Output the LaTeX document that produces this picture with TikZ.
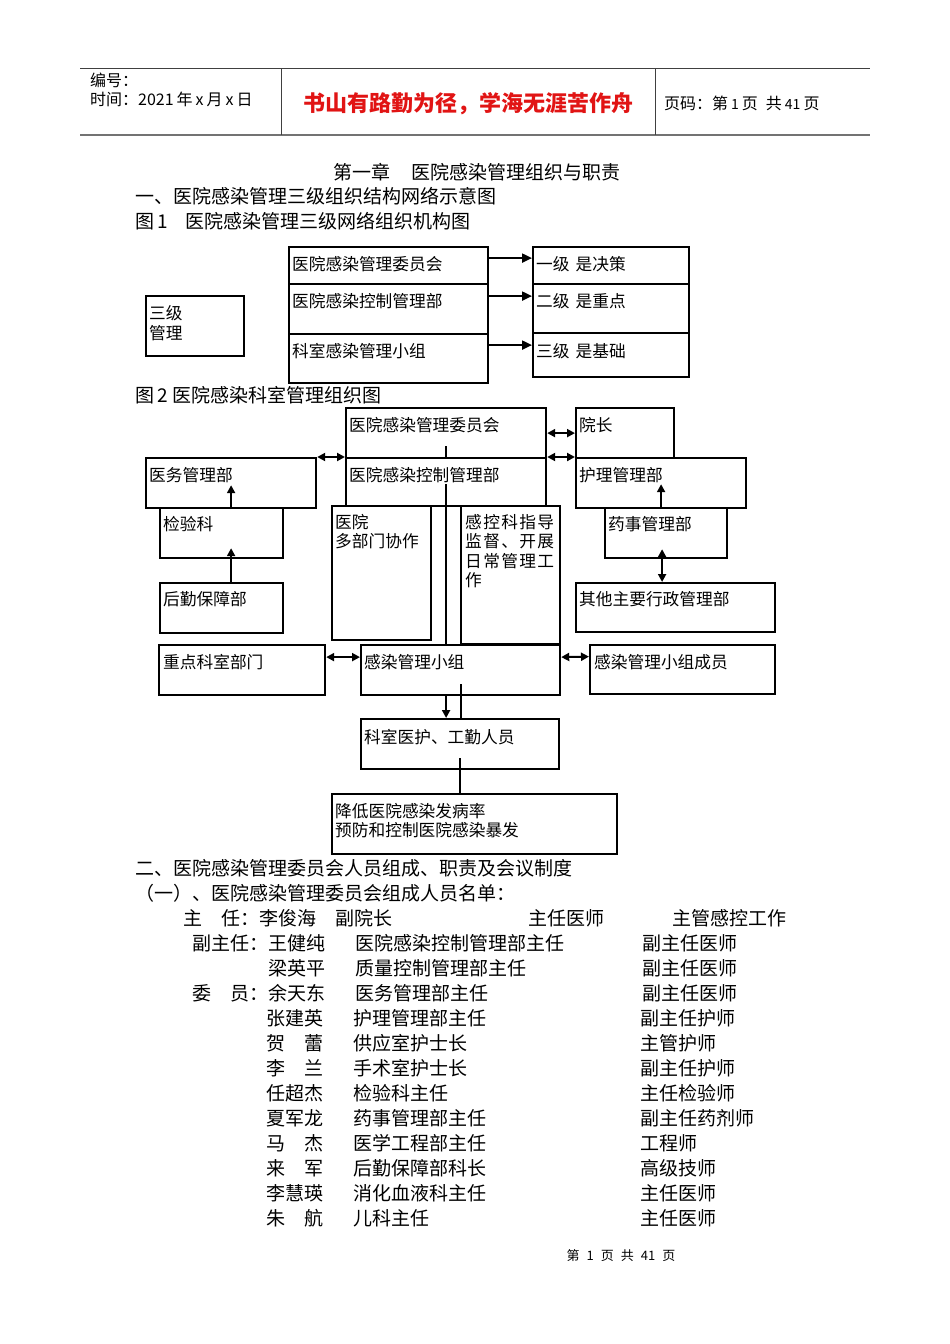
\documentclass[tikz,border=0pt]{standalone}
\usepackage{fontspec}
\setmainfont{Noto Sans CJK SC}
\usetikzlibrary{arrows.meta}
\newcommand\fsF{\fontsize{16.7pt}{19pt}\selectfont}
\newcommand\fsB{\fontsize{19pt}{22pt}\selectfont}
\newcommand\fsH{\fontsize{16pt}{18pt}\selectfont}
\newcommand\fsR{\fontsize{22pt}{26pt}\selectfont}
\newcommand\fsS{\fontsize{13pt}{16pt}\selectfont}
\newcommand\bx[5]{\node[box,minimum width={#4-#2},minimum height={#5-#3}] (#1) at (#2,#3) {};}
\begin{document}
\begin{tikzpicture}[x=1pt,y=-1pt,
  box/.style={draw,line width=2.2pt,inner sep=0pt,anchor=north west},
  lbl/.style={anchor=west,inner sep=0pt,font=\fsF},
  body/.style={anchor=west,inner sep=0pt,font=\fsB},
  hdr/.style={anchor=west,inner sep=0pt,font=\fsH},
  arr/.style={line width=2pt,-{Triangle[length=8pt,width=8pt]}},
  arrb/.style={line width=2.2pt,-{Triangle[length=10pt,width=9pt]}},
  dbl/.style={line width=2pt,{Triangle[length=8pt,width=8pt]}-{Triangle[length=8pt,width=8pt]}},
  ln/.style={line width=2pt},
  rule/.style={draw=black!75,line width=1pt}]
\fill[white] (0,0) rectangle (950,1344);
\useasboundingbox (0,0) rectangle (950,1344);

% ---------- header ----------
\draw[rule] (80,68) -- (870,68);
\draw[draw=black!55,line width=2pt] (80,135) -- (870,135);
\draw[rule] (281,68) -- (281,135);
\draw[rule] (655,68) -- (655,135);
\node[hdr] (hbh) at (90,80) {编号：};
\node[hdr] (hsj) at (90,99) {时间：2021\hspace{3pt}年\hspace{3pt}x\hspace{3pt}月\hspace{3pt}x\hspace{3pt}日};
\node[inner sep=0pt,font=\fsR\bfseries,text={rgb,255:red,225;green,20;blue,20}] (motto) at (468,104) {书山有路勤为径，学海无涯苦作舟};
\node[hdr] (hym) at (664,103) {页码：第\hspace{3pt}{\fontsize{14pt}{15pt}\selectfont 1}\hspace{3pt}页\hspace{8pt}共\hspace{3pt}{\fontsize{14pt}{15pt}\selectfont 41}\hspace{3pt}页};

% ---------- headings ----------
\node[body] (title) at (333,172) {第一章\hspace{21pt}医院感染管理组织与职责};
\node[body] (h1) at (135,196) {一、医院感染管理三级组织结构网络示意图};
\node[body] (cap1) at (135,221) {图\,1\hspace{18pt}医院感染管理三级网络组织机构图};

% ---------- figure 1 ----------
\bx{sj}{145}{295}{243}{355}
\node[lbl] (sj1) at (149,313) {三级};
\node[lbl] (sj2) at (149,333) {管理};
\bx{a1}{288}{246}{487}{283}
\bx{a2}{288}{283}{487}{333}
\bx{a3}{288}{333}{487}{382}
\bx{r1}{532}{246}{688}{283}
\bx{r2}{532}{283}{688}{332}
\bx{r3}{532}{332}{688}{376}
\node[lbl] (ta1) at (292,264) {医院感染管理委员会};
\node[lbl] (ta2) at (292,301) {医院感染控制管理部};
\node[lbl] (ta3) at (292,351) {科室感染管理小组};
\node[lbl] (tr1) at (536,264) {一级\hspace{6pt}是决策};
\node[lbl] (tr2) at (536,301) {二级\hspace{6pt}是重点};
\node[lbl] (tr3) at (536,351) {三级\hspace{6pt}是基础};
\draw[arrb] ([yshift=7.5pt]a1.east) -- ([yshift=7.5pt]r1.west);
\draw[arrb] ([yshift=13pt]a2.east) -- ([yshift=12.5pt]r2.west);
\draw[arrb] ([yshift=13.5pt]a3.east) -- ([yshift=10pt]r3.west);

% ---------- figure 2 ----------
\node[body] (cap2) at (135,395) {图\,2\hspace{5pt}医院感染科室管理组织图};
\bx{w1}{345}{407}{545}{457}
\bx{k2}{345}{457}{545}{505}
\bx{yz}{575}{407}{673}{457}
\bx{hl}{575}{457}{745}{507}
\bx{yw}{145}{457}{315}{507}
\bx{jy}{159}{507}{282}{557}
\bx{hq}{159}{582}{282}{632}
\bx{dbm}{331}{505}{430}{639}
\bx{gk}{460}{505}{559}{643}
\bx{ys}{604}{507}{726}{557}
\bx{qt}{575}{582}{774}{631}
\bx{zd}{158}{644}{324}{694}
\bx{gz}{360}{644}{559}{694}
\bx{cy}{589}{644}{774}{693}
\bx{ks}{360}{718}{558}{768}
\bx{jd}{331}{793}{616}{853}

\node[lbl] (tw1) at (349,425) {医院感染管理委员会};
\node[lbl] (tk2) at (349,475) {医院感染控制管理部};
\node[lbl] (tyz) at (579,425) {院长};
\node[lbl] (thl) at (579,475) {护理管理部};
\node[lbl] (tyw) at (149,475) {医务管理部};
\node[lbl] (tjy) at (163,524) {检验科};
\node[lbl] (thq) at (163,599) {后勤保障部};
\node[lbl] (tdb1) at (335,522) {医院};
\node[lbl] (tdb2) at (335,541) {多部门协作};
\node[lbl] (tgk1) at (465,522) {\makebox[89pt][l]{感\hfill 控\hfill 科\hfill 指\hfill 导}};
\node[lbl] (tgk2) at (465,541) {\makebox[89pt][l]{监\hfill 督\hfill 、\hfill 开\hfill 展}};
\node[lbl] (tgk3) at (465,561) {\makebox[89pt][l]{日\hfill 常\hfill 管\hfill 理\hfill 工}};
\node[lbl] (tgk4) at (465,580) {作};
\node[lbl] (tys) at (608,524) {药事管理部};
\node[lbl] (tqt) at (579,599) {其他主要行政管理部};
\node[lbl] (tzd) at (163,662) {重点科室部门};
\node[lbl] (tgz) at (364,662) {感染管理小组};
\node[lbl] (tcy) at (594,662) {感染管理小组成员};
\node[lbl] (tks) at (364,737) {科室医护、工勤人员};
\node[lbl] (tjd1) at (335,811) {降低医院感染发病率};
\node[lbl] (tjd2) at (335,830) {预防和控制医院感染暴发};

% connectors
\draw[dbl] (w1.east) -- (yz.west);
\draw[dbl] (k2.north east) -- (hl.north west);
\draw[dbl] (yw.north east) -- (k2.north west);
\draw[arr] (yw.south) -- ([yshift=24pt]yw.south);
\draw[arr] ([xshift=9.5pt]hq.north) -- ([xshift=9.5pt,yshift=11pt]jy.south);
\draw[arr] (hl.south) -- ([yshift=25pt]hl.south);
\draw[dbl] ([xshift=-4pt,yshift=10pt]ys.south) -- ([xshift=-4pt]ys.south |- qt.north);
\draw[dbl] ([yshift=13pt]zd.east) -- ([yshift=13pt]gz.west);
\draw[dbl] ([yshift=13pt]gz.east) -- ([yshift=13pt]cy.west);
\draw[ln] ([yshift=-13pt]w1.center) -- (w1.south);
\draw[ln] ([yshift=-2pt]k2.center) -- (k2.center |- gz.north);
\draw[arr] ([xshift=-14.5pt]gz.south) -- ([xshift=-14.5pt]gz.south |- ks.north);
\draw[ln] ([yshift=-14pt]gz.center) -- (gz.center |- ks.north);
\draw[ln] ([yshift=-14pt]ks.center) -- (ks.center |- jd.north);

% ---------- list ----------
\node[body] (h2) at (135,868) {二、医院感染管理委员会人员组成、职责及会议制度};
\node[body] (h3) at (135,893) {（一）、医院感染管理委员会组成人员名单：};
\node[body] (p1) at (183,918) {主　任：李俊海　副院长};
\node[body] (p1b) at (528,918) {主任医师};
\node[body] (p1c) at (672,918) {主管感控工作};
\node[body] (p2) at (192,943) {副主任：王健纯};
\node[body] (p2b) at (355,943) {医院感染控制管理部主任};
\node[body] (p2c) at (642,943) {副主任医师};
\node[body] (p3) at (268,968) {梁英平};
\node[body] (p3b) at (355,968) {质量控制管理部主任};
\node[body] (p3c) at (642,968) {副主任医师};
\node[body] (p4) at (192,993) {委　员：余天东};
\node[body] (p4b) at (355,993) {医务管理部主任};
\node[body] (p4c) at (642,993) {副主任医师};
\node[body] (p5) at (266,1018) {张建英};
\node[body] (p5b) at (353,1018) {护理管理部主任};
\node[body] (p5c) at (640,1018) {副主任护师};
\node[body] (p6) at (266,1043) {贺　蕾};
\node[body] (p6b) at (353,1043) {供应室护士长};
\node[body] (p6c) at (640,1043) {主管护师};
\node[body] (p7) at (266,1068) {李　兰};
\node[body] (p7b) at (353,1068) {手术室护士长};
\node[body] (p7c) at (640,1068) {副主任护师};
\node[body] (p8) at (266,1093) {任超杰};
\node[body] (p8b) at (353,1093) {检验科主任};
\node[body] (p8c) at (640,1093) {主任检验师};
\node[body] (p9) at (266,1118) {夏军龙};
\node[body] (p9b) at (353,1118) {药事管理部主任};
\node[body] (p9c) at (640,1118) {副主任药剂师};
\node[body] (p10) at (266,1143) {马　杰};
\node[body] (p10b) at (353,1143) {医学工程部主任};
\node[body] (p10c) at (640,1143) {工程师};
\node[body] (p11) at (266,1168) {来　军};
\node[body] (p11b) at (353,1168) {后勤保障部科长};
\node[body] (p11c) at (640,1168) {高级技师};
\node[body] (p12) at (266,1193) {李慧瑛};
\node[body] (p12b) at (353,1193) {消化血液科主任};
\node[body] (p12c) at (640,1193) {主任医师};
\node[body] (p13) at (266,1218) {朱　航};
\node[body] (p13b) at (353,1218) {儿科主任};
\node[body] (p13c) at (640,1218) {主任医师};

\node[inner sep=0pt,font=\fsS] (foot) at (621,1256) {第\hspace{7pt}1\hspace{7pt}页\hspace{7pt}共\hspace{7pt}41\hspace{7pt}页};
\end{tikzpicture}
\end{document}
